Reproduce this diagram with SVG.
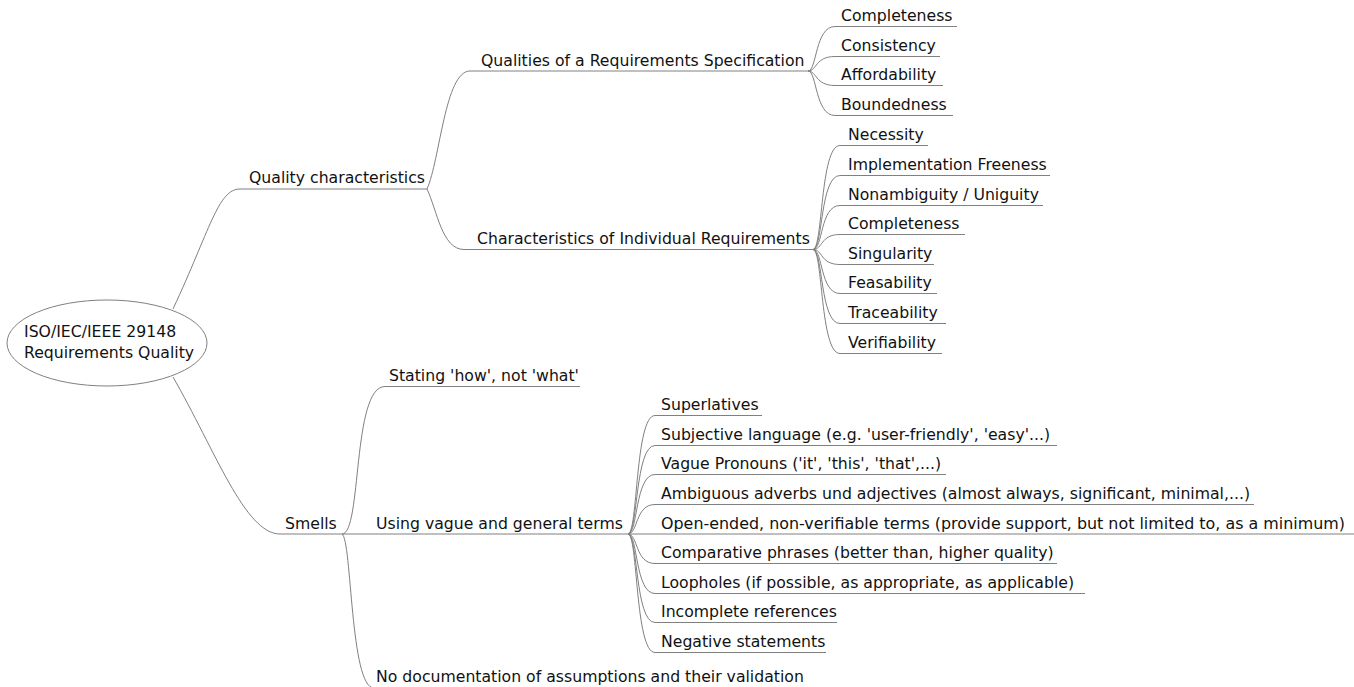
<svg xmlns="http://www.w3.org/2000/svg" width="1354" height="687" viewBox="0 0 1354 687">
<style>
text{font-family:"DejaVu Sans","Liberation Sans",sans-serif;font-size:15.7px;fill:#111}
.u{stroke:#808080;stroke-width:1;fill:none}
.c path{stroke:#808080;stroke-width:1;fill:none}
</style>
<rect width="1354" height="687" fill="#fff"/>
<g class="c" id="connectors">
<path d="M173,309 C210,230 218,189 240,189"/>
<path d="M173,377 C215,450 245,534 280,534"/>
<path d="M427,189 C440,160 445,71 470,71"/>
<path d="M427,189 C437,210 442,249.5 464,249.5"/>
<path d="M808,71 C817,71 815,26.5 835,26.5"/>
<path d="M808,71 C817,71 815,56.5 835,56.5"/>
<path d="M808,71 C817,71 815,85.5 835,85.5"/>
<path d="M808,71 C817,71 815,115.5 835,115.5"/>
<path d="M813,249.5 C823,249.5 820,145.5 840,145.5"/>
<path d="M813,249.5 C823,249.5 820,175.5 840,175.5"/>
<path d="M813,249.5 C823,249.5 820,205.5 840,205.5"/>
<path d="M813,249.5 C823,249.5 820,234.5 840,234.5"/>
<path d="M813,249.5 C823,249.5 820,264.5 840,264.5"/>
<path d="M813,249.5 C823,249.5 820,293.5 840,293.5"/>
<path d="M813,249.5 C823,249.5 820,323.5 840,323.5"/>
<path d="M813,249.5 C823,249.5 820,353.5 840,353.5"/>
<path d="M342,534 C362,534 352,386.5 385,386.5"/>
<path d="M342,534 C352,540 350,688 374,688"/>
<path d="M628,534 C638,534 635,415.5 655,415.5"/>
<path d="M628,534 C638,534 635,445.5 655,445.5"/>
<path d="M628,534 C638,534 635,474.5 655,474.5"/>
<path d="M628,534 C638,534 635,504.5 655,504.5"/>
<path d="M628,534 L655,534"/>
<path d="M628,534 C638,534 635,563.5 655,563.5"/>
<path d="M628,534 C638,534 635,593.5 655,593.5"/>
<path d="M628,534 C638,534 635,622.5 655,622.5"/>
<path d="M628,534 C638,534 635,652.5 655,652.5"/>
</g>
<g id="root">
<ellipse cx="107" cy="343" rx="100" ry="43" fill="#fff" stroke="#808080" stroke-width="1"/>
<text x="24" y="337">ISO/IEC/IEEE 29148</text>
<text x="24" y="358">Requirements Quality</text>
</g>
<g id="quality-characteristics"><line class="u" x1="240" y1="189" x2="427" y2="189"/><text x="249" y="183">Quality characteristics</text></g>
<g id="qualities-spec"><line class="u" x1="470" y1="71" x2="808" y2="71"/><text x="481" y="65.5">Qualities of a Requirements Specification</text></g>
<g id="spec-completeness"><line class="u" x1="835" y1="26.5" x2="957" y2="26.5"/><text x="841" y="21">Completeness</text></g>
<g id="spec-consistency"><line class="u" x1="835" y1="56.5" x2="940" y2="56.5"/><text x="841" y="51">Consistency</text></g>
<g id="spec-affordability"><line class="u" x1="835" y1="85.5" x2="943" y2="85.5"/><text x="841" y="80">Affordability</text></g>
<g id="spec-boundedness"><line class="u" x1="835" y1="115.5" x2="953" y2="115.5"/><text x="841" y="110">Boundedness</text></g>
<g id="individual-req"><line class="u" x1="464" y1="249.5" x2="813" y2="249.5"/><text x="477" y="244">Characteristics of Individual Requirements</text></g>
<g id="necessity"><line class="u" x1="840" y1="145.5" x2="928" y2="145.5"/><text x="848" y="140">Necessity</text></g>
<g id="impl-freeness"><line class="u" x1="840" y1="175.5" x2="1050" y2="175.5"/><text x="848" y="170">Implementation Freeness</text></g>
<g id="nonambiguity"><line class="u" x1="840" y1="205.5" x2="1043" y2="205.5"/><text x="848" y="200">Nonambiguity / Uniguity</text></g>
<g id="req-completeness"><line class="u" x1="840" y1="234.5" x2="965" y2="234.5"/><text x="848" y="229">Completeness</text></g>
<g id="singularity"><line class="u" x1="840" y1="264.5" x2="934" y2="264.5"/><text x="848" y="259">Singularity</text></g>
<g id="feasability"><line class="u" x1="840" y1="293.5" x2="937" y2="293.5"/><text x="848" y="288">Feasability</text></g>
<g id="traceability"><line class="u" x1="840" y1="323.5" x2="946" y2="323.5"/><text x="848" y="318">Traceability</text></g>
<g id="verifiability"><line class="u" x1="840" y1="353.5" x2="942" y2="353.5"/><text x="848" y="348">Verifiability</text></g>
<g id="smells"><line class="u" x1="280" y1="534" x2="342" y2="534"/><text x="285" y="528.5">Smells</text></g>
<g id="stating-how"><line class="u" x1="385" y1="386.5" x2="580" y2="386.5"/><text x="389" y="381">Stating 'how', not 'what'</text></g>
<g id="vague-terms"><line class="u" x1="342" y1="534" x2="628" y2="534"/><text x="376" y="528.5">Using vague and general terms</text></g>
<g id="no-documentation"><line class="u" x1="374" y1="688" x2="812" y2="688"/><text x="376" y="682">No documentation of assumptions and their validation</text></g>
<g id="superlatives"><line class="u" x1="655" y1="415.5" x2="762" y2="415.5"/><text x="661" y="410">Superlatives</text></g>
<g id="subjective"><line class="u" x1="655" y1="445.5" x2="1057" y2="445.5"/><text x="661" y="440">Subjective language (e.g. 'user-friendly', 'easy'...)</text></g>
<g id="pronouns"><line class="u" x1="655" y1="474.5" x2="946" y2="474.5"/><text x="661" y="469">Vague Pronouns ('it', 'this', 'that',...)</text></g>
<g id="ambiguous"><line class="u" x1="655" y1="504.5" x2="1254" y2="504.5"/><text x="661" y="499">Ambiguous adverbs und adjectives (almost always, significant, minimal,...)</text></g>
<g id="open-ended"><line class="u" x1="655" y1="534" x2="1354" y2="534"/><text x="661" y="528.5" textLength="684" lengthAdjust="spacingAndGlyphs">Open-ended, non-verifiable terms (provide support, but not limited to, as a minimum)</text></g>
<g id="comparative"><line class="u" x1="655" y1="563.5" x2="1057" y2="563.5"/><text x="661" y="558">Comparative phrases (better than, higher quality)</text></g>
<g id="loopholes"><line class="u" x1="655" y1="593.5" x2="1085" y2="593.5"/><text x="661" y="588">Loopholes (if possible, as appropriate, as applicable)</text></g>
<g id="incomplete-refs"><line class="u" x1="655" y1="622.5" x2="837" y2="622.5"/><text x="661" y="617">Incomplete references</text></g>
<g id="negative"><line class="u" x1="655" y1="652.5" x2="826" y2="652.5"/><text x="661" y="647">Negative statements</text></g>
</svg>
